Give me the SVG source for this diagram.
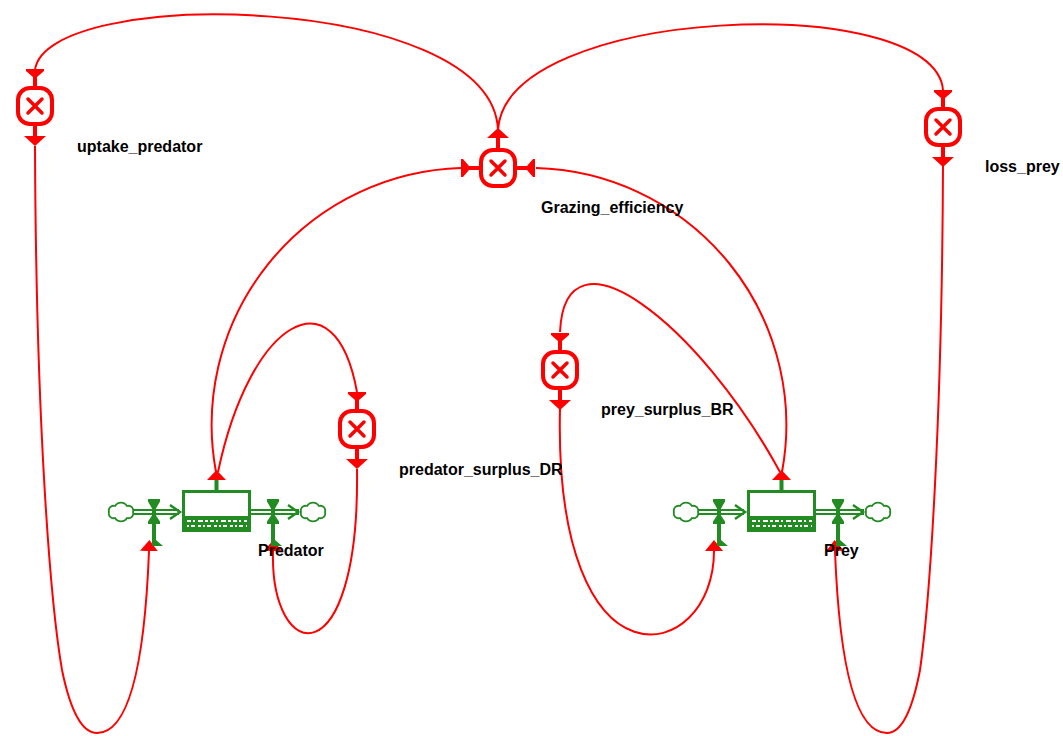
<svg xmlns="http://www.w3.org/2000/svg" width="1063" height="736" viewBox="0 0 1063 736">
<style>
.lbl{font-family:"Liberation Sans",Arial,sans-serif;font-weight:bold;font-size:16px;fill:#000}
.con{fill:none;stroke:#ff0000;stroke-width:2}
.red{fill:#ff0000}
.grn{fill:#228b22}
.pipe{stroke:#228b22;stroke-width:6}
.pipein{stroke:#fff;stroke-width:2}
.chev{fill:none;stroke:#228b22;stroke-width:2.5}
.cloud{fill:#fff;stroke:#228b22;stroke-width:1.8}
</style>
<defs>
<marker id="ah" markerUnits="userSpaceOnUse" viewBox="0 0 11 18" refX="0" refY="9" markerWidth="11" markerHeight="18" orient="auto">
<path d="M0,0 L11,9 L0,18 Z" fill="#ff0000"/>
</marker>
<g id="vFunnel"><path class="red" d="M-9,-37 H9 V-35 L2,-29 V-19 H-2 V-29 L-9,-35 Z"/></g>
<g id="vOut"><path class="red" d="M-2,19 H2 V30 H11 L0,40 L-11,30 H-2 Z"/></g>
<g id="vBody">
<rect x="-17" y="-18" width="34" height="36" rx="12" fill="#fff" stroke="#ff0000" stroke-width="4"/>
<path d="M-7,-7 L7,7 M7,-7 L-7,7" stroke="#ff0000" stroke-width="3.5" stroke-linecap="round"/>
</g>
<g id="varIcon"><use href="#vFunnel"/><use href="#vBody"/><use href="#vOut"/></g>
<g id="valve">
<path class="grn" d="M-6,499 H6 V501.5 L2,508.5 V515.5 L6,521.5 V524 H-6 V521.5 L-2,515.5 V508.5 L-6,501.5 Z"/>
<rect class="grn" x="-2" y="524" width="4" height="22"/>
<path class="grn" d="M2,540 L9,546 L2,546 Z"/>
</g>
<path id="cloudP" class="cloud" d="M-12,512 A4.8,4.8 0 0 1 -6,506 A7,7 0 0 1 6,506 A4.8,4.8 0 0 1 12,512 A4.8,4.8 0 0 1 6,518 A7,7 0 0 1 -6,518 A4.8,4.8 0 0 1 -12,512 Z"/>
<g id="stockShape">
<line class="pipe" x1="-49" y1="512" x2="-3" y2="512"/>
<line class="pipein" x1="-49" y1="512" x2="-3" y2="512"/>
<polyline class="chev" points="-12,505 -2,512 -12,519"/>
<line class="pipe" x1="69" y1="512" x2="117" y2="512"/>
<line class="pipein" x1="69" y1="512" x2="117" y2="512"/>
<polyline class="chev" points="106,505 116,512 106,519"/>
<use href="#cloudP" x="-61"/>
<use href="#cloudP" x="131"/>
<use href="#valve" x="-28"/>
<use href="#valve" x="91"/>
<rect x="1.5" y="491.5" width="66" height="39" fill="#fff" stroke="#228b22" stroke-width="3"/>
<rect class="grn" x="1.5" y="516" width="66" height="14.5"/>
<line x1="5" y1="521" x2="65" y2="521" stroke="#fff" stroke-width="2" stroke-dasharray="4 2 2 3 5 2 3 2"/>
<line x1="5" y1="526" x2="65" y2="526" stroke="#fff" stroke-width="2" stroke-dasharray="2 2 4 3 3 2"/>
<rect class="grn" x="32.5" y="480" width="4" height="10"/>
<path class="red" d="M25,480 L44,480 L34.5,470 Z"/>
</g>
</defs>

<g id="connectors">
<path class="con" d="M498,130 C492,-8 45,-15 35,70"/>
<path class="con" d="M498,130 C505,5 935,-10 943,90"/>
<path class="con" d="M216,472 A257,257 0 0 1 461,168"/>
<path class="con" d="M782,472 A257,257 0 0 0 536,168"/>
<path class="con" d="M218,472 C250,320 335,270 357,392"/>
<path class="con" d="M780,472 C700,325 565,218 560,332"/>
<path class="con" marker-end="url(#ah)" d="M35,146 C36,420 50,600 62,670 Q75,733 97,733 Q142,733 149,551"/>
<path class="con" marker-end="url(#ah)" d="M943,165 C942,420 930,600 920,670 Q908,733 887,733 Q842,733 835,551"/>
<path class="con" marker-end="url(#ah)" d="M357,469 C360,680 270,665 273,551"/>
<path class="con" marker-end="url(#ah)" d="M560,408 C553,700 714,665 714,551"/>
</g>

<g id="uptake_predator">
<use href="#varIcon" x="35" y="106"/>
<text class="lbl" x="77" y="152">uptake_predator</text>
</g>
<g id="Grazing_efficiency">
<g transform="translate(498,168)">
<use href="#vFunnel" transform="rotate(-90)"/>
<use href="#vFunnel" transform="rotate(90)"/>
<use href="#vOut" transform="rotate(180)"/>
<use href="#vBody"/>
</g>
<text class="lbl" x="541" y="213">Grazing_efficiency</text>
</g>
<g id="loss_prey">
<use href="#varIcon" x="943" y="127"/>
<text class="lbl" x="985" y="172">loss_prey</text>
</g>
<g id="prey_surplus_BR">
<use href="#varIcon" x="560" y="370"/>
<text class="lbl" x="601" y="415">prey_surplus_BR</text>
</g>
<g id="predator_surplus_DR">
<use href="#varIcon" x="357" y="429"/>
<text class="lbl" x="399" y="475">predator_surplus_DR</text>
</g>
<g id="Predator" transform="translate(182,0)">
<use href="#stockShape"/>
<text class="lbl" x="76" y="556">Predator</text>
</g>
<g id="Prey" transform="translate(747,0)">
<use href="#stockShape"/>
<text class="lbl" x="77" y="556">Prey</text>
</g>
</svg>
